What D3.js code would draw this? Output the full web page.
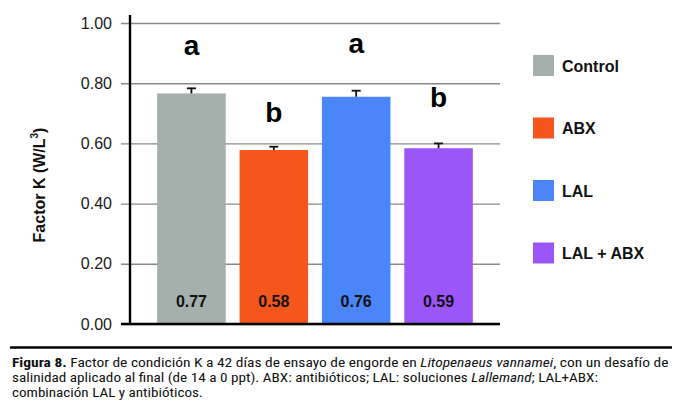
<!DOCTYPE html>
<html>
<head>
<meta charset="utf-8">
<script src="https://cdn.jsdelivr.net/npm/d3@7"></script>
<style>
  html, body { margin: 0; padding: 0; background: #fff; }
  svg { display: block; }
</style>
</head>
<body>
<div id="canva"></div>
<script>
// data
const groups = ['Control', 'ABX', 'LAL', 'LAL + ABX'];
const means = [0.766, 0.578, 0.755, 0.584];
const errors = [0.017, 0.011, 0.020, 0.016];
const valueLabels = ['0.77', '0.58', '0.76', '0.59'];
const letters = ['a', 'b', 'a', 'b'];
const colors = ['#a5afac', '#f5561b', '#4a85fa', '#9b56fa'];
const yTicks = [0, 0.2, 0.4, 0.6, 0.8, 1.0];

const captionLines = [
    [['Figura 8.', 'bold'], [' Factor de condición K a 42 días de ensayo de engorde en ', ''], ['Litopenaeus vannamei', 'italic'], [', con un desafío de', '']],
    [['salinidad aplicado al final (de 14 a 0 ppt). ABX: antibióticos; LAL: soluciones ', ''], ['Lallemand', 'italic'], ['; LAL+ABX:', '']],
    [['combinación LAL y antibióticos.', '']]
];
const captionWidths = [657, 587, 191];

const W = 680, H = 419;
const plotLeft = 130, plotRight = 500, plotTop = 23, plotBottom = 324;
const font = '"Liberation Sans", Arial, Helvetica, sans-serif';

const svg = d3.select('#canva').append('svg')
    .attr('width', W)
    .attr('height', H)
    .attr('viewBox', `0 0 ${W} ${H}`)
    .attr('font-family', font);

const x = d3.scaleBand()
    .domain(groups)
    .range([plotLeft, plotRight])
    .paddingInner(0.168)
    .paddingOuter(0.33);

const y = d3.scaleLinear()
    .domain([0, 1])
    .range([plotBottom, plotTop]);

// gridlines (they poke out left of the axis like ticks)
svg.append('g')
    .attr('transform', `translate(${plotRight},0)`)
    .call(d3.axisRight(y).tickValues(yTicks).tickSize(-(plotRight - 121)).tickFormat(''))
    .call(g => g.select('.domain').remove())
    .call(g => g.selectAll('.tick line').attr('stroke', '#8a8a8a').attr('stroke-width', 1.4));

// tick labels
svg.append('g')
    .attr('transform', `translate(${plotLeft},0)`)
    .call(d3.axisLeft(y).tickValues(yTicks).tickSize(0).tickPadding(18).tickFormat(d3.format('.2f')))
    .call(g => g.select('.domain').remove())
    .call(g => g.selectAll('text')
        .attr('font-family', font)
        .attr('font-size', 16)
        .attr('fill', '#1a1a1a'));

// bars
svg.selectAll('rect.bar')
    .data(groups)
    .enter()
    .append('rect')
    .attr('class', 'bar')
    .attr('x', d => x(d))
    .attr('width', x.bandwidth())
    .attr('y', (d, i) => y(means[i]))
    .attr('height', (d, i) => y(0) - y(means[i]))
    .attr('fill', (d, i) => colors[i]);

// error bars
const capW = 9;
const err = svg.selectAll('g.err')
    .data(groups)
    .enter()
    .append('g')
    .attr('class', 'err')
    .attr('stroke', '#111')
    .attr('stroke-width', 1.8);

err.append('line')
    .attr('x1', d => x(d) + x.bandwidth() / 2)
    .attr('x2', d => x(d) + x.bandwidth() / 2)
    .attr('y1', (d, i) => y(means[i]))
    .attr('y2', (d, i) => y(means[i] + errors[i]));

err.append('line')
    .attr('x1', d => x(d) + x.bandwidth() / 2 - capW / 2)
    .attr('x2', d => x(d) + x.bandwidth() / 2 + capW / 2)
    .attr('y1', (d, i) => y(means[i] + errors[i]))
    .attr('y2', (d, i) => y(means[i] + errors[i]));

// axes lines
svg.append('line')
    .attr('x1', plotLeft).attr('x2', plotLeft)
    .attr('y1', plotTop - 8).attr('y2', plotBottom + 1)
    .attr('stroke', '#000').attr('stroke-width', 2.4);

svg.append('line')
    .attr('x1', 121).attr('x2', plotRight)
    .attr('y1', plotBottom).attr('y2', plotBottom)
    .attr('stroke', '#000').attr('stroke-width', 2.4);

// values inside bars
svg.selectAll('text.val')
    .data(groups)
    .enter()
    .append('text')
    .attr('class', 'val')
    .attr('x', d => x(d) + x.bandwidth() / 2)
    .attr('y', 307)
    .attr('text-anchor', 'middle')
    .attr('font-size', 16)
    .attr('font-weight', 'bold')
    .attr('fill', '#111')
    .text((d, i) => valueLabels[i]);

// significance letters
const letterGap = [33, 25, 38, 36];
svg.selectAll('text.sig')
    .data(groups)
    .enter()
    .append('text')
    .attr('class', 'sig')
    .attr('x', d => x(d) + x.bandwidth() / 2)
    .attr('y', (d, i) => y(means[i] + errors[i]) - letterGap[i])
    .attr('text-anchor', 'middle')
    .attr('font-size', 28)
    .attr('font-weight', 'bold')
    .attr('fill', '#000')
    .text((d, i) => letters[i]);

// y title
const yTitle = svg.append('text')
    .attr('transform', 'translate(45,185) rotate(-90)')
    .attr('text-anchor', 'middle')
    .attr('font-size', 16)
    .attr('font-weight', 'bold')
    .attr('fill', '#111');
yTitle.append('tspan').text('Factor K (W/L');
yTitle.append('tspan').attr('font-size', 10).attr('dy', -7).text('3');
yTitle.append('tspan').attr('dy', 7).text(')');

// legend
const legend = svg.selectAll('g.legend')
    .data(groups)
    .enter()
    .append('g')
    .attr('class', 'legend')
    .attr('transform', (d, i) => `translate(533,${65.5 + i * 62.5})`);

legend.append('rect')
    .attr('x', 0)
    .attr('y', -10.5)
    .attr('width', 21)
    .attr('height', 21)
    .attr('fill', (d, i) => colors[i]);

legend.append('text')
    .attr('x', 29)
    .attr('y', 6)
    .attr('font-size', 16)
    .attr('font-weight', 'bold')
    .attr('fill', '#111')
    .text(d => d);

// caption
svg.append('line')
    .attr('x1', 10).attr('x2', 672)
    .attr('y1', 347.5).attr('y2', 347.5)
    .attr('stroke', '#000').attr('stroke-width', 2.5);

const capFont = '"Liberation Sans Narrow", "Roboto Condensed", "DejaVu Sans Condensed", "Liberation Sans", sans-serif';
captionLines.forEach((parts, li) => {
    const g = svg.append('g');
    const t = g.append('text')
        .attr('x', 0)
        .attr('y', 0)
        .attr('font-family', capFont)
        .attr('font-size', 13)
        .attr('fill', '#111');
    parts.forEach(([s, style]) => {
        const ts = t.append('tspan').text(s);
        if (style === 'bold') ts.attr('font-weight', 'bold');
        if (style === 'italic') ts.attr('font-style', 'italic');
    });
    const len = t.node().getComputedTextLength();
    const sx = captionWidths[li] / len;
    g.attr('transform', `translate(12,${367 + li * 15}) scale(${sx},1)`);
});
</script>
</body>
</html>
